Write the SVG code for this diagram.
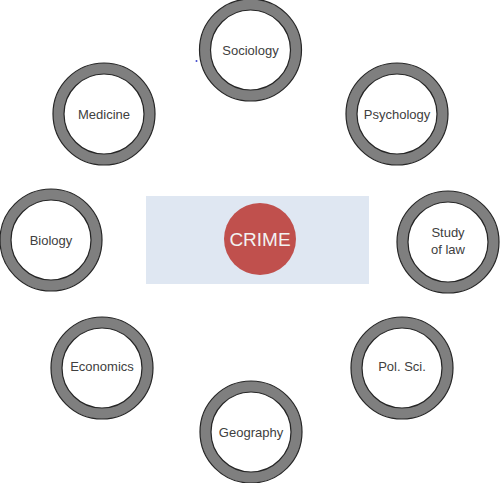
<svg xmlns="http://www.w3.org/2000/svg" width="500" height="483" viewBox="0 0 500 483">
<style>
.ring{fill:#7f7f7f;stroke:#262626;stroke-width:1.2}
.hole{fill:#ffffff;stroke:#262626;stroke-width:1.2}
.lbl{font-family:"Liberation Sans",Arial,sans-serif;font-size:13px;fill:#404040;text-anchor:middle}
.crime{font-family:"Liberation Sans",Arial,sans-serif;font-size:19px;fill:#f2f2f2;text-anchor:middle}
</style>
<rect width="500" height="483" fill="#ffffff"/>
<g id="center">
<rect x="146" y="196" width="223" height="88" fill="#dfe7f2"/>
<circle cx="260" cy="239" r="36" fill="#c0504d"/>
<text class="crime" x="260" y="246">CRIME</text>
</g>
<g id="sociology">
<circle class="ring" cx="250.5" cy="50" r="51"/>
<circle class="hole" cx="250.5" cy="50" r="40"/>
<text class="lbl" x="250.5" y="54.5">Sociology</text>
</g>
<g id="psychology">
<circle class="ring" cx="397" cy="114" r="51"/>
<circle class="hole" cx="397" cy="114" r="40"/>
<text class="lbl" x="397" y="118.5">Psychology</text>
</g>
<g id="medicine">
<circle class="ring" cx="104" cy="114" r="51"/>
<circle class="hole" cx="104" cy="114" r="40"/>
<text class="lbl" x="104" y="118.5">Medicine</text>
</g>
<g id="biology">
<circle class="ring" cx="51" cy="240" r="51"/>
<circle class="hole" cx="51" cy="240" r="40"/>
<text class="lbl" x="51" y="244.5">Biology</text>
</g>
<g id="study-of-law">
<circle class="ring" cx="448" cy="242" r="51"/>
<circle class="hole" cx="448" cy="242" r="40"/>
<text class="lbl" x="448" y="237">Study</text>
<text class="lbl" x="448" y="254">of law</text>
</g>
<g id="economics">
<circle class="ring" cx="102" cy="368" r="51"/>
<circle class="hole" cx="102" cy="368" r="40"/>
<text class="lbl" x="102" y="370.5">Economics</text>
</g>
<g id="pol-sci">
<circle class="ring" cx="402" cy="368" r="51"/>
<circle class="hole" cx="402" cy="368" r="40"/>
<text class="lbl" x="402" y="370.5">Pol. Sci.</text>
</g>
<g id="geography">
<circle class="ring" cx="251" cy="432" r="51"/>
<circle class="hole" cx="251" cy="432" r="40"/>
<text class="lbl" x="251" y="436.5">Geography</text>
</g>
<g id="connectors"/>
<circle cx="196.5" cy="61" r="1" fill="#3f48cc"/>
</svg>
